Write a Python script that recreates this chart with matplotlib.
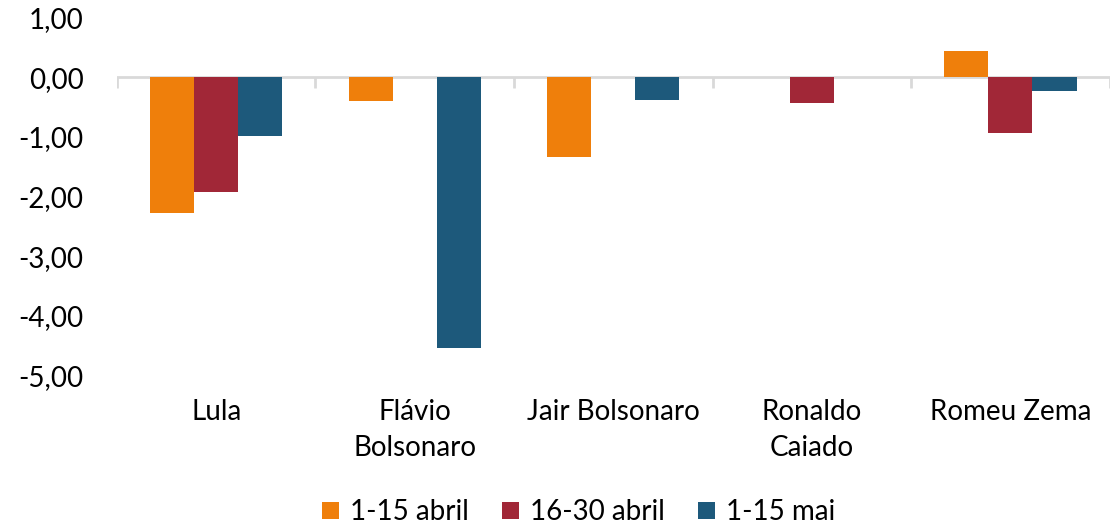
import numpy as np
import matplotlib.pyplot as plt

plt.rcParams['font.family'] = ['Lato', 'DejaVu Sans']

candidatos = ['Lula', 'Flávio\nBolsonaro', 'Jair Bolsonaro', 'Ronaldo\nCaiado', 'Romeu Zema']
series = ['1-15 abril', '16-30 abril', '1-15 mai']
abril_1 = [-2.27, -0.40, -1.34, 0.0, 0.44]
abril_2 = [-1.92, 0.0, 0.0, -0.43, -0.93]
maio_1 = [-0.99, -4.55, -0.38, 0.0, -0.23]
cores = ['#EF7F0B', '#A12737', '#1D597B']

fig = plt.figure(figsize=(11.13, 5.24), dpi=100)
ax = fig.add_axes([0.105, 0.284, 0.892, 0.682])

x = np.arange(len(candidatos))
w = 0.222
for k, (vals, nome) in enumerate(zip([abril_1, abril_2, maio_1], series)):
    ax.bar(x + (k - 1) * w, vals, w, color=cores[k], label=nome)

ax.set_xlim(-0.5, len(candidatos) - 0.5)
ax.set_ylim(-5, 1)
ax.set_yticks(np.arange(-5, 1.01, 1))
ax.yaxis.set_major_formatter(plt.FuncFormatter(lambda v, p: f'{v:.2f}'.replace('.', ',')))
ax.set_xticks(x)
ax.set_xticklabels(candidatos, va='top', linespacing=1.5)
ax.tick_params(axis='both', length=0, labelsize=20, colors='#000000')
ax.tick_params(axis='x', pad=17)
ax.tick_params(axis='y', pad=24)
for s in ax.spines.values():
    s.set_visible(False)

# eixo zero com marcas entre categorias
ax.axhline(0, color='#D9D9D9', lw=2, zorder=0)
ax.vlines(np.arange(-0.5, len(candidatos)), 0, -0.17, color='#D9D9D9', lw=2, zorder=0)

fig.legend(loc='lower center', ncol=3, frameon=False, fontsize=20,
           handlelength=0.6, handleheight=0.6, handletextpad=0.4,
           columnspacing=1.2, bbox_to_anchor=(0.52, -0.05))

fig.savefig('out.png', dpi=100)
